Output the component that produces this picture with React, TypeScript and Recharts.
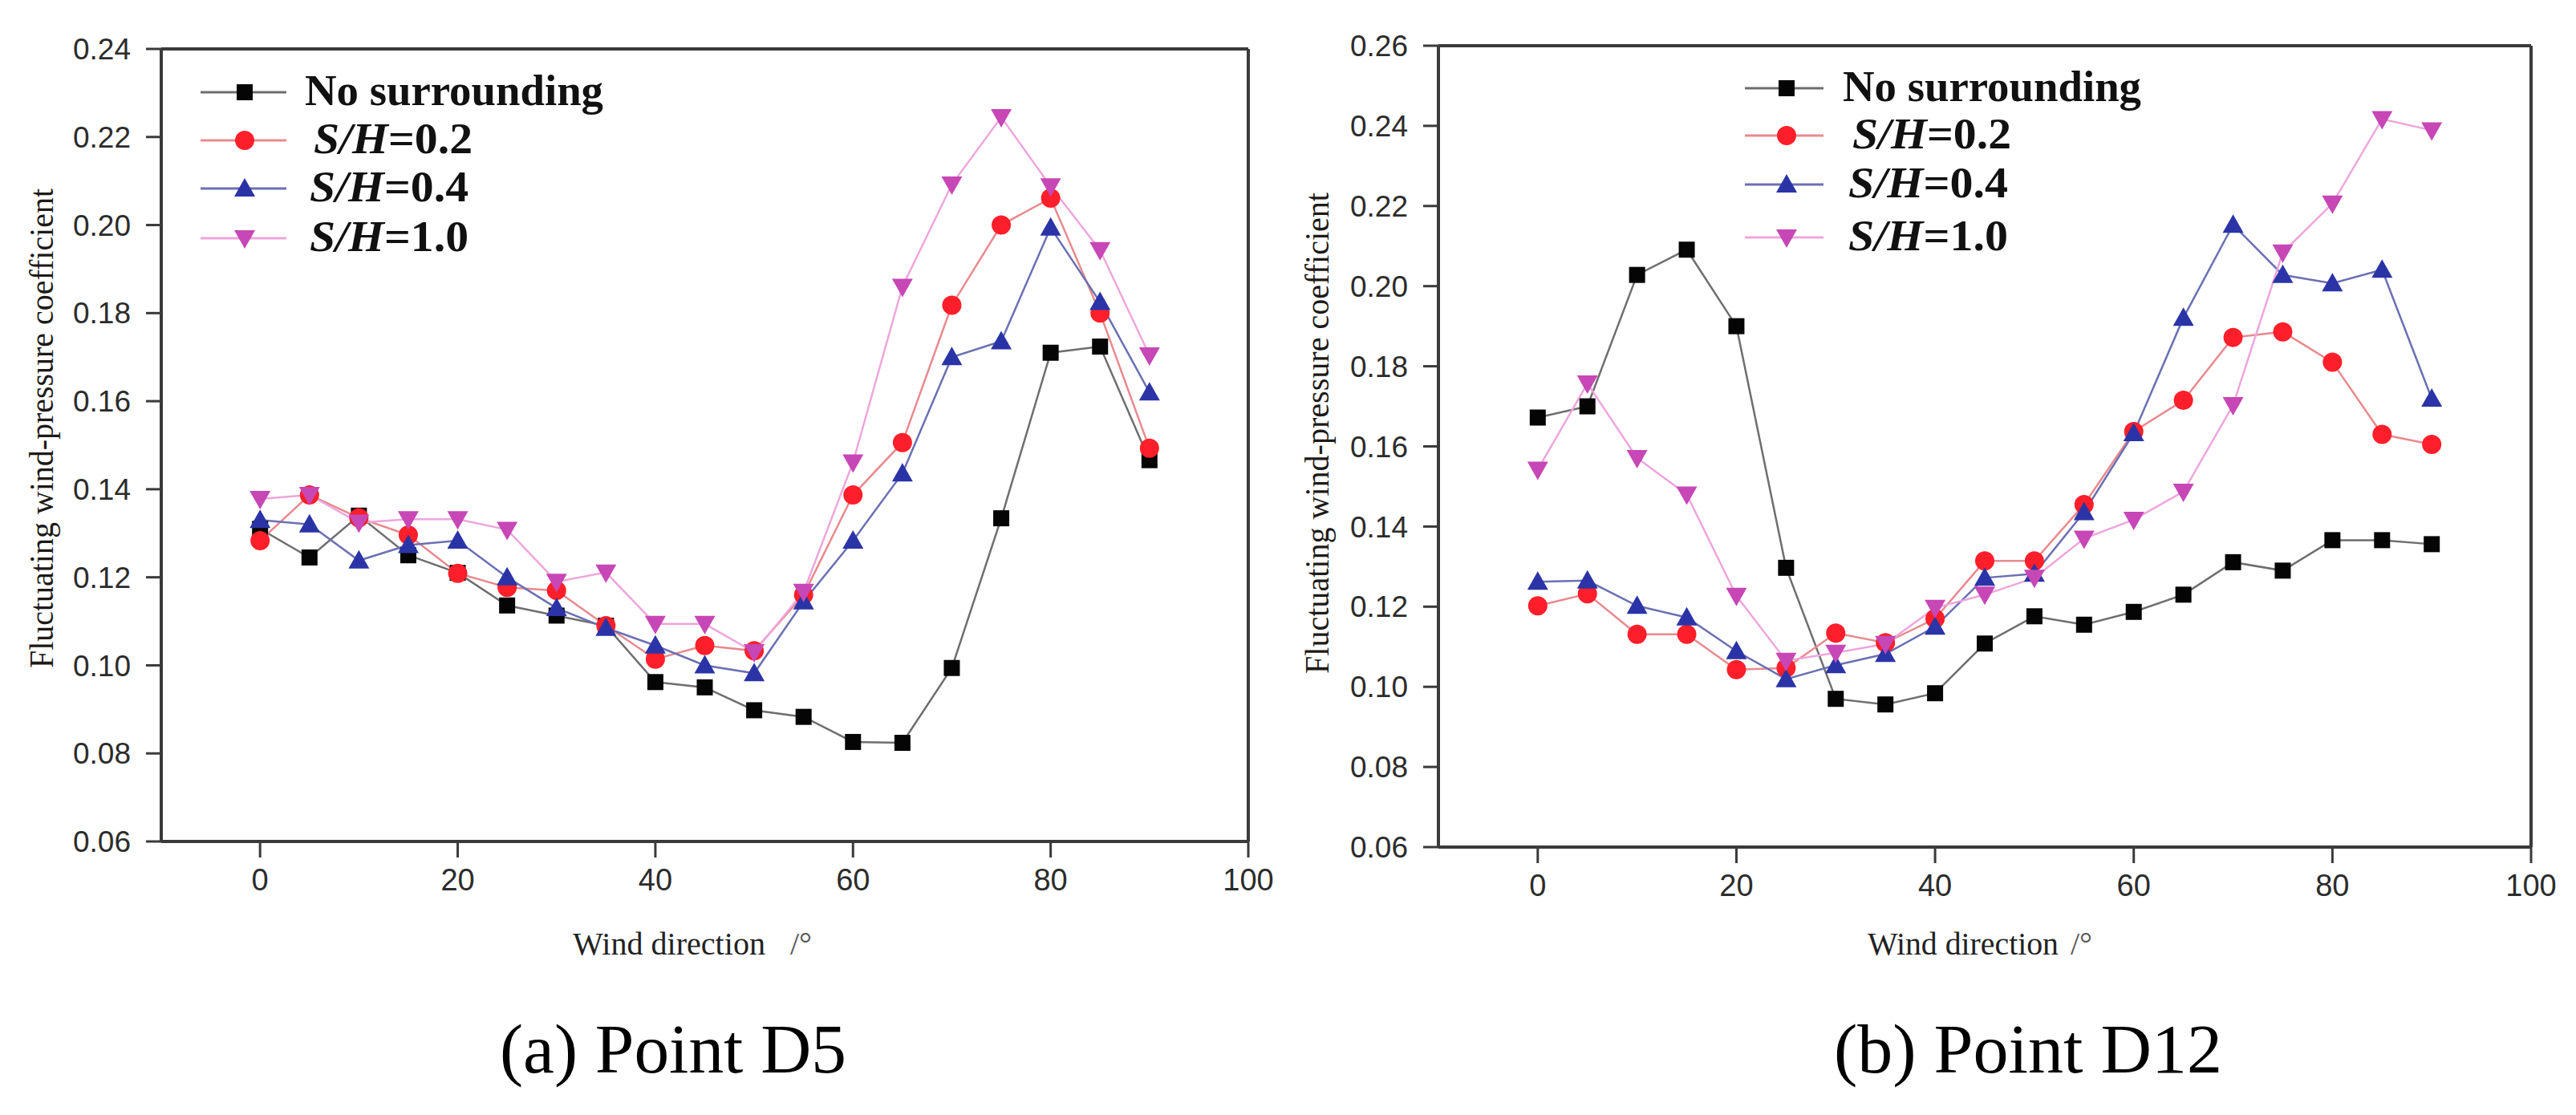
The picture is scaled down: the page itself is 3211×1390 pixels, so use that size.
import React from 'react';
import { LineChart, Line, XAxis, YAxis, Legend, ReferenceLine } from 'recharts';

const windDirections = [0, 5, 10, 15, 20, 25, 30, 35, 40, 45, 50, 55, 60, 65, 70, 75, 80, 85, 90];

const d5NoSurrounding = [0.131, 0.1245, 0.134, 0.125, 0.121, 0.1136, 0.1113, 0.109, 0.0962, 0.095, 0.0898, 0.0883, 0.0826, 0.0824, 0.0994, 0.1334, 0.171, 0.1724, 0.1466];
const d5SH02 = [0.1283, 0.1387, 0.1335, 0.1296, 0.1209, 0.1177, 0.117, 0.109, 0.1014, 0.1045, 0.1033, 0.116, 0.1387, 0.1506, 0.1818, 0.2, 0.2061, 0.18, 0.1493];
const d5SH04 = [0.133, 0.132, 0.1238, 0.1273, 0.1283, 0.12, 0.113, 0.1085, 0.1045, 0.1, 0.0982, 0.1145, 0.1283, 0.1436, 0.17, 0.1736, 0.1994, 0.1825, 0.162];
const d5SH10 = [0.1378, 0.1387, 0.1324, 0.1332, 0.1332, 0.1308, 0.119, 0.1211, 0.1094, 0.1094, 0.103, 0.1167, 0.1461, 0.186, 0.2092, 0.2245, 0.2088, 0.1943, 0.1704];

const d12NoSurrounding = [0.1672, 0.17, 0.2028, 0.2091, 0.19, 0.1297, 0.097, 0.0956, 0.0984, 0.1108, 0.1176, 0.1155, 0.1187, 0.123, 0.1311, 0.129, 0.1366, 0.1366, 0.1356];
const d12SH02 = [0.1202, 0.1232, 0.1131, 0.1131, 0.1043, 0.1047, 0.1134, 0.111, 0.117, 0.1314, 0.1314, 0.1455, 0.1637, 0.1715, 0.1872, 0.1886, 0.181, 0.163, 0.1605];
const d12SH04 = [0.1262, 0.1265, 0.1202, 0.1173, 0.1089, 0.1019, 0.1054, 0.1082, 0.115, 0.1272, 0.1282, 0.1436, 0.1633, 0.1921, 0.2153, 0.2028, 0.2007, 0.2041, 0.1719];
const d12SH10 = [0.1542, 0.1757, 0.1571, 0.148, 0.1227, 0.1065, 0.1085, 0.1107, 0.1197, 0.123, 0.1272, 0.137, 0.1417, 0.1487, 0.1703, 0.2084, 0.2206, 0.2417, 0.2389];

const xTicks = [0, 20, 40, 60, 80, 100];
const d5YTicks = [0.06, 0.08, 0.1, 0.12, 0.14, 0.16, 0.18, 0.2, 0.22, 0.24];
const d12YTicks = [0.06, 0.08, 0.1, 0.12, 0.14, 0.16, 0.18, 0.2, 0.22, 0.24, 0.26];

const seriesKeys = ['noSurrounding', 'sh02', 'sh04', 'sh10'];
const seriesNames = ['No surrounding', 'S/H=0.2', 'S/H=0.4', 'S/H=1.0'];
const lineColors = ['#6e6e6e', '#e88a8f', '#6b70b2', '#eea6dc'];
const markerColors = ['#050505', '#ff1f2a', '#2b34a6', '#c647b5'];
const markerShapes = ['square', 'circle', 'triangle', 'invTriangle'];

const buildData = (a: number[], b: number[], c: number[], d: number[]) =>
  windDirections.map((x, i) => ({ x, noSurrounding: a[i], sh02: b[i], sh04: c[i], sh10: d[i] }));

const d5Data = buildData(d5NoSurrounding, d5SH02, d5SH04, d5SH10);
const d12Data = buildData(d12NoSurrounding, d12SH02, d12SH04, d12SH10);

const AXIS = '#3a3a3a';
const SERIF = '"Liberation Serif", "Times New Roman", serif';
const SANS = '"Liberation Sans", Arial, sans-serif';

function Marker({ shape, color, cx, cy }: { shape: string; color: string; cx: number; cy: number }) {
  if (shape === 'square') {
    return <rect x={cx - 10} y={cy - 10} width={20} height={20} fill={color} />;
  }
  if (shape === 'circle') {
    return <circle cx={cx} cy={cy} r={12} fill={color} />;
  }
  if (shape === 'triangle') {
    return <polygon points={`${cx},${cy - 13} ${cx + 13},${cy + 10} ${cx - 13},${cy + 10}`} fill={color} />;
  }
  return <polygon points={`${cx - 13},${cy - 10} ${cx + 13},${cy - 10} ${cx},${cy + 13}`} fill={color} />;
}

const makeDot = (i: number) => (props: any) => {
  const { cx, cy, index } = props;
  if (cx == null || cy == null) return <g key={`d-${i}-${index}`} />;
  return (
    <g key={`d-${i}-${index}`}>
      <Marker shape={markerShapes[i]} color={markerColors[i]} cx={cx} cy={cy} />
    </g>
  );
};

function LegendLabel({ i, x, y, w }: { i: number; x: number; y: number; w: number }) {
  if (i === 0) {
    return (
      <text x={x} y={y} fontFamily={SERIF} fontWeight="bold" fontSize={54} fill="#111" textLength={w} lengthAdjust="spacingAndGlyphs">
        {seriesNames[0]}
      </text>
    );
  }
  const rest = seriesNames[i].slice(3);
  return (
    <text x={x} y={y} fontFamily={SERIF} fontWeight="bold" fontSize={54} fill="#111" textLength={w} lengthAdjust="spacingAndGlyphs">
      <tspan fontStyle="italic">S/H</tspan>
      <tspan>{rest}</tspan>
    </text>
  );
}

function makeLegend(rows: number[], lineX: [number, number], markerX: number, textX: number[], widths: number[]) {
  return () => (
    <svg width={540} height={260} style={{ display: 'block', overflow: 'visible' }}>
      {seriesNames.map((_, i) => (
        <g key={i}>
          <line x1={lineX[0]} x2={lineX[1]} y1={rows[i]} y2={rows[i]} stroke={lineColors[i]} strokeWidth={3} />
          <Marker shape={markerShapes[i]} color={markerColors[i]} cx={markerX} cy={rows[i]} />
          <LegendLabel i={i} x={textX[i]} y={rows[i] + 16} w={widths[i]} />
        </g>
      ))}
    </svg>
  );
}

type PanelProps = {
  data: any[];
  width: number;
  height: number;
  left: number;
  yAxisWidth: number;
  marginTop: number;
  marginRight: number;
  xAxisHeight: number;
  yDomain: [number, number];
  yTicks: number[];
  legend: () => React.ReactElement;
  legendLeft: number;
  legendTop: number;
};

function Panel(p: PanelProps) {
  return (
    <div style={{ position: 'absolute', left: p.left, top: 0 }}>
      <LineChart
        width={p.width}
        height={p.height}
        data={p.data}
        margin={{ top: p.marginTop, right: p.marginRight, left: 0, bottom: 0 }}
      >
        <XAxis
          dataKey="x"
          type="number"
          domain={[-10, 100]}
          ticks={xTicks}
          allowDataOverflow
          height={p.xAxisHeight}
          tickSize={20}
          tickMargin={14}
          axisLine={{ stroke: AXIS, strokeWidth: 4 }}
          tickLine={{ stroke: AXIS, strokeWidth: 3 }}
          tick={{ fontSize: 38, fill: '#2c2c2c', fontFamily: SANS }}
        />
        <YAxis
          type="number"
          domain={p.yDomain}
          ticks={p.yTicks}
          allowDataOverflow
          width={p.yAxisWidth}
          tickSize={19}
          tickMargin={19}
          tickFormatter={(v: number) => v.toFixed(2)}
          axisLine={{ stroke: AXIS, strokeWidth: 4 }}
          tickLine={{ stroke: AXIS, strokeWidth: 3 }}
          tick={{ fontSize: 37, fill: '#2c2c2c', fontFamily: SANS }}
        />
        <ReferenceLine y={p.yDomain[1]} stroke={AXIS} strokeWidth={4} />
        <ReferenceLine x={100} stroke={AXIS} strokeWidth={4} />
        {seriesKeys.map((k, i) => (
          <Line
            key={k}
            dataKey={k}
            name={seriesNames[i]}
            type="linear"
            stroke={lineColors[i]}
            strokeWidth={2.5}
            dot={makeDot(i)}
            activeDot={false}
            isAnimationActive={false}
          />
        ))}
        <Legend
          layout="vertical"
          align="center"
          verticalAlign="middle"
          content={p.legend}
          wrapperStyle={{ left: p.legendLeft, top: p.legendTop, width: 540, height: 260 }}
        />
      </LineChart>
    </div>
  );
}

const legendD5 = makeLegend([35, 95, 155, 217], [10, 117], 65, [140, 151, 146, 146], [372, 198, 198, 198]);
const legendD12 = makeLegend([35, 94, 155, 221], [10, 108], 62, [132, 144, 139, 139], [372, 198, 199, 199]);

export default function App() {
  return (
    <div style={{ position: 'absolute', left: 0, top: 0, width: 3211, height: 1390, background: '#fff', overflow: 'hidden' }}>
      <Panel
        data={d5Data}
        width={1600}
        height={1230}
        left={0}
        yAxisWidth={201}
        marginTop={61}
        marginRight={44}
        xAxisHeight={181}
        yDomain={[0.06, 0.24]}
        yTicks={d5YTicks}
        legend={legendD5}
        legendLeft={240}
        legendTop={80}
      />
      <Panel
        data={d12Data}
        width={1611}
        height={1230}
        left={1600}
        yAxisWidth={193}
        marginTop={57}
        marginRight={56}
        xAxisHeight={174}
        yDomain={[0.06, 0.26]}
        yTicks={d12YTicks}
        legend={legendD12}
        legendLeft={565}
        legendTop={75}
      />
      <svg width={3211} height={1390} style={{ position: 'absolute', left: 0, top: 0, pointerEvents: 'none' }}>
        <text transform="translate(66,534) rotate(-90)" textAnchor="middle" fontFamily={SERIF} fontSize={42} fill="#1d1a18" textLength={598} lengthAdjust="spacingAndGlyphs">
          Fluctuating wind-pressure coefficient
        </text>
        <text transform="translate(1656,540) rotate(-90)" textAnchor="middle" fontFamily={SERIF} fontSize={42} fill="#1d1a18" textLength={600} lengthAdjust="spacingAndGlyphs">
          Fluctuating wind-pressure coefficient
        </text>
        <text x={714} y={1190} fontFamily={SERIF} fontSize={40} fill="#222" textLength={240} lengthAdjust="spacingAndGlyphs">Wind direction</text>
        <text x={985} y={1190} fontFamily={SERIF} fontSize={40} fill="#555">/°</text>
        <text x={2328} y={1190} fontFamily={SERIF} fontSize={40} fill="#222" textLength={238} lengthAdjust="spacingAndGlyphs">Wind direction</text>
        <text x={2581} y={1190} fontFamily={SERIF} fontSize={40} fill="#555">/°</text>
        <text x={623} y={1337} fontFamily={SERIF} fontSize={86} fill="#000" textLength={432} lengthAdjust="spacingAndGlyphs">(a) Point D5</text>
        <text x={2286} y={1337} fontFamily={SERIF} fontSize={86} fill="#000" textLength={484} lengthAdjust="spacingAndGlyphs">(b) Point D12</text>
      </svg>
    </div>
  );
}
